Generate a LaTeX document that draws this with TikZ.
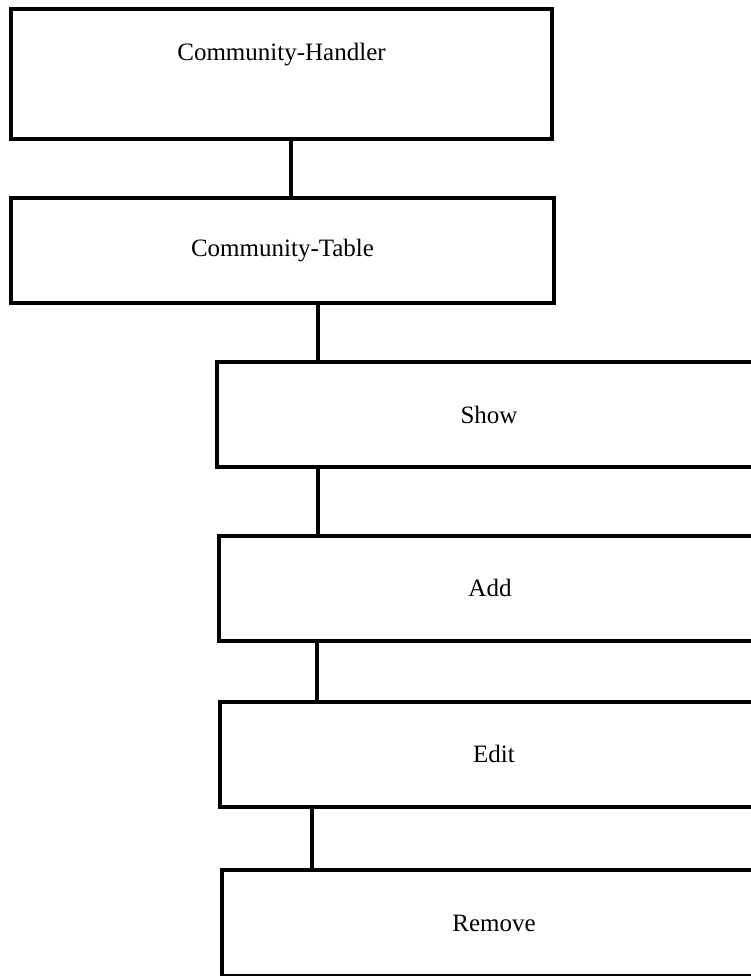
\documentclass[tikz,border=0pt]{standalone}
\usepackage{fontspec}
\setmainfont{Liberation Serif}
\tikzset{
  box/.style={draw, rectangle, line width=4pt, inner sep=0pt, outer sep=0pt},
  link/.style={line width=4pt},
}
\begin{document}
\begin{tikzpicture}[x=1pt, y=-1pt, font=\fontsize{25}{30}\selectfont]
		\useasboundingbox (0,0) rectangle (751,976);
		\clip (0,0) rectangle (751,976);

		\node[box, minimum width=541pt, minimum height=130pt, label={[anchor=center, yshift=19pt]center:Community-Handler}] (hand) at (281.5,74) {};
		\node[box, minimum width=543pt, minimum height=105pt] (table) at (282.5,250.5) {Community-Table};
		\node[box, minimum width=545pt, minimum height=105pt] (show) at (489,414.5) {Show};
		\node[box, minimum width=543pt, minimum height=105pt] (add) at (490,588) {Add};
		\node[box, minimum width=549pt, minimum height=105pt] (edit) at (494,754) {Edit};
		\node[box, minimum width=545pt, minimum height=106pt] (remove) at (494,923) {Remove};

		\coordinate (k1) at (291,0);
		\coordinate (k2) at (318,0);
		\coordinate (k3) at (317.5,0);
		\coordinate (k4) at (316.5,0);
		\coordinate (k5) at (312,0);

		\draw[link] (hand.south -| k1) -- (table.north -| k1);
		\draw[link] (table.south -| k2) -- (show.north -| k2);
		\draw[link] (show.south -| k3) -- (add.north -| k3);
		\draw[link] (add.south -| k4) -- (edit.north -| k4);
		\draw[link] (edit.south -| k5) -- (remove.north -| k5);
	\end{tikzpicture}
\end{document}
